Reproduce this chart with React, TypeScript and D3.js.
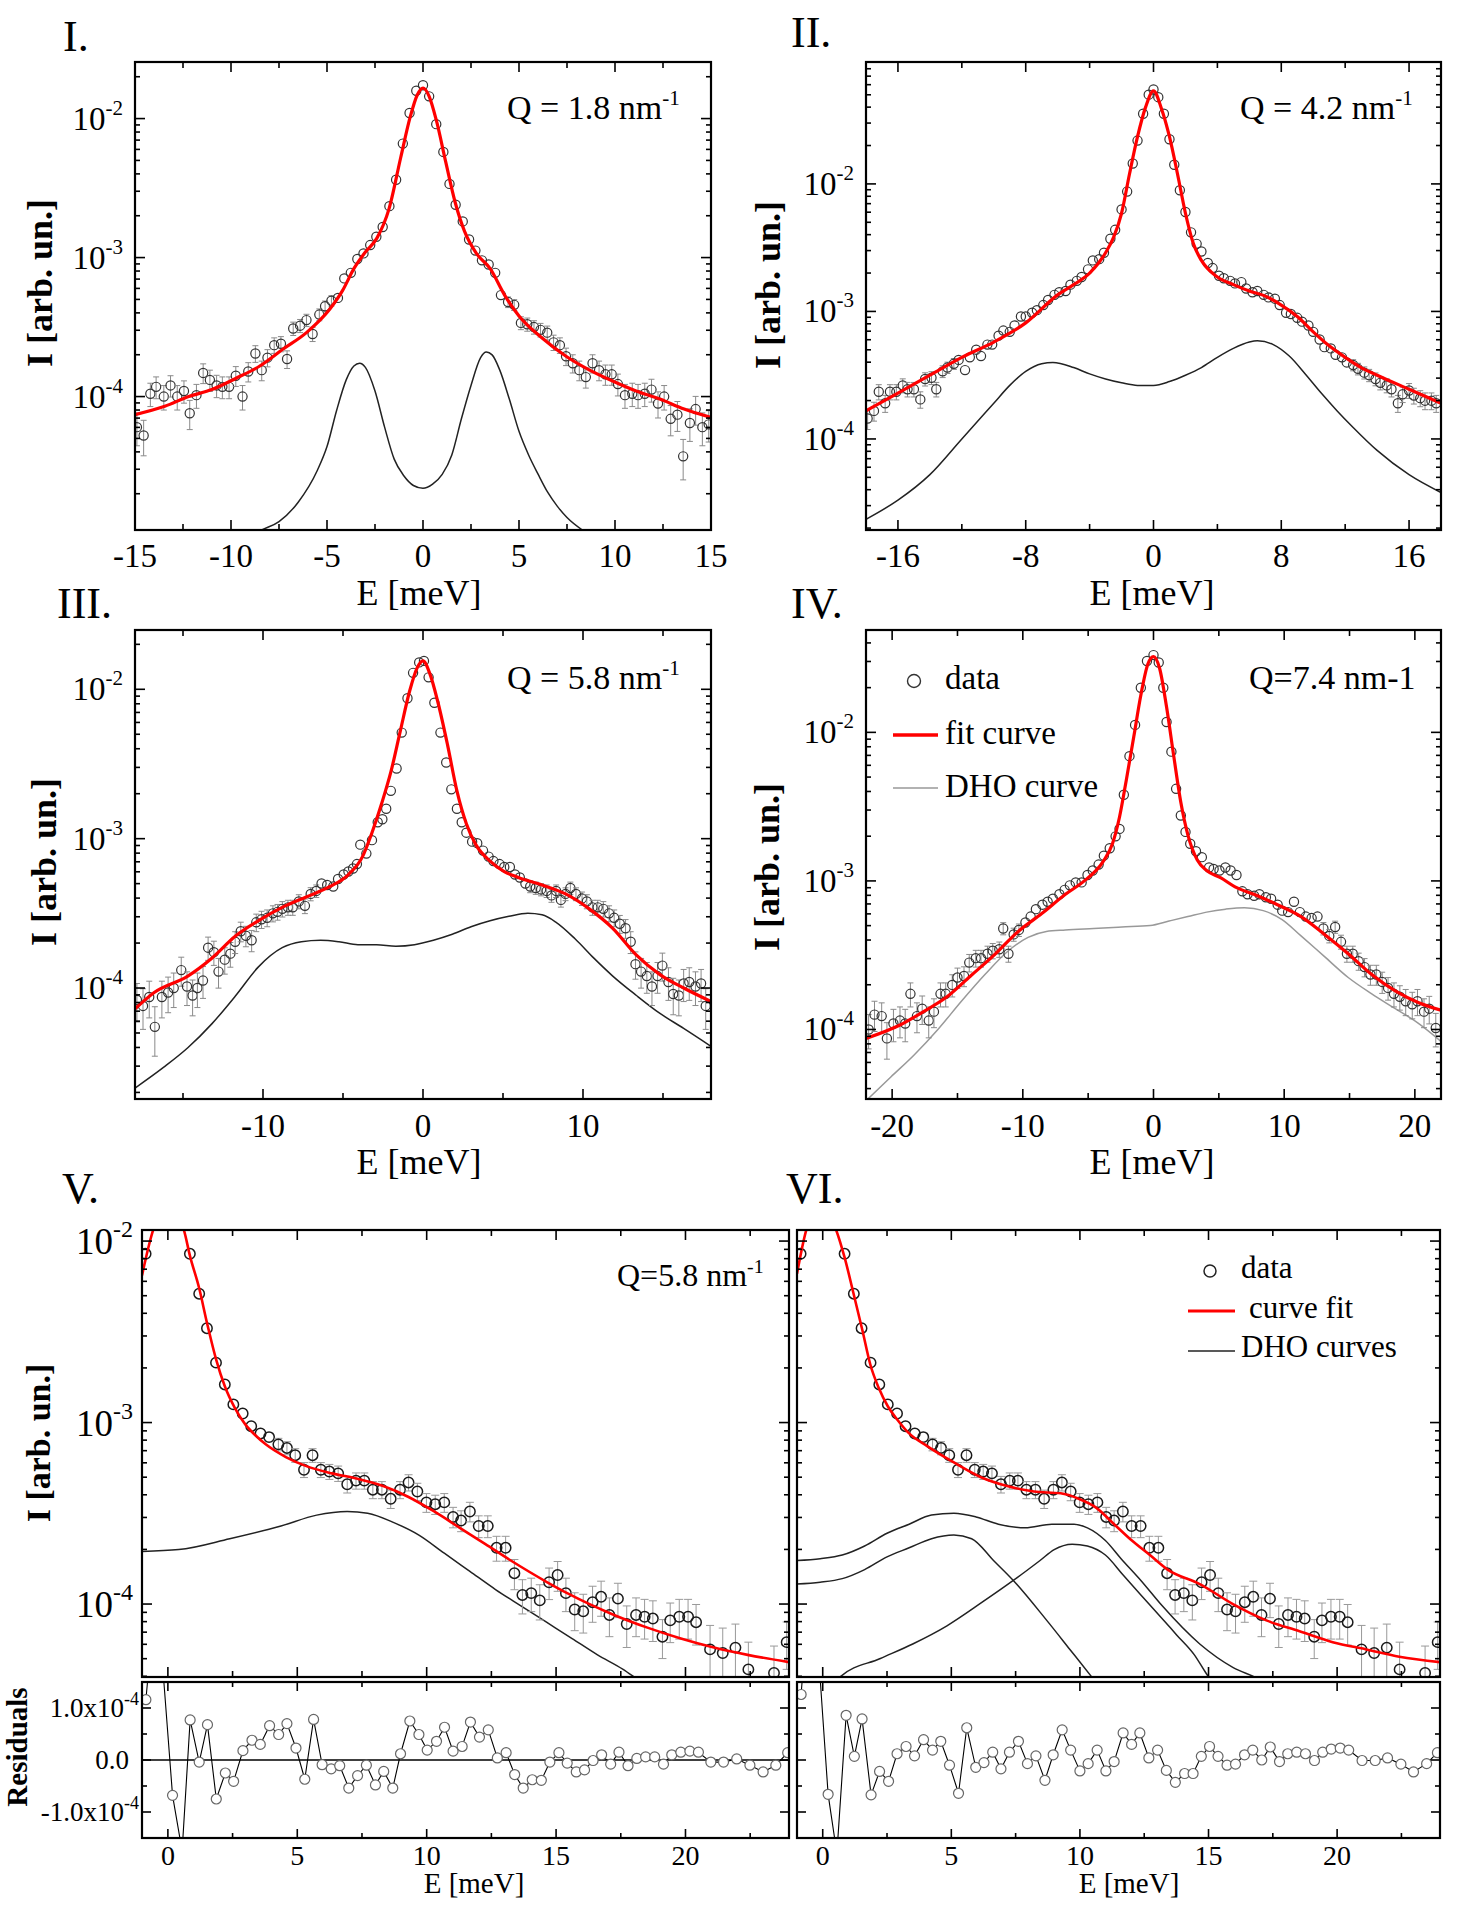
import React from "react";
import * as d3 from "d3";

// Each data row: [E (meV), log10 I, error bar half-length in units of 1e-5 (optional)]
type Row = number[];

// ---------- panel I : Q = 1.8 nm^-1 ----------
const P1_DATA: Row[] = [
  [-14.9, -4.22, 1.6], [-14.55, -4.28, 1.5], [-14.2, -3.98, 2.0], [-13.9, -3.93, 2.1], [-13.5, -4.0, 2.0],
  [-13.15, -3.92, 2.1], [-12.8, -4.0, 2.0], [-12.45, -3.96, 2.0], [-12.15, -4.12, 1.8], [-11.8, -3.99, 2.0],
  [-11.45, -3.83, 2.4], [-11.1, -3.88, 2.3], [-10.75, -3.92, 2.2], [-10.45, -3.93, 2.1], [-10.1, -3.93, 2.1],
  [-9.75, -3.85, 2.3], [-9.4, -4.0, 2.0], [-9.1, -3.82, 2.4], [-8.73, -3.69, 2.8], [-8.4, -3.81, 2.5],
  [-8.1, -3.72, 2.7], [-7.75, -3.63, 3.0], [-7.4, -3.62, 3.0], [-7.08, -3.73, 2.7], [-6.76, -3.51, 3.4],
  [-6.4, -3.49, 3.5], [-6.07, -3.45, 3.6], [-5.75, -3.55, 3.3], [-5.4, -3.41, 3.8], [-5.1, -3.35, 4.0],
  [-4.77, -3.31, 4.2], [-4.43, -3.29], [-4.1, -3.15], [-3.76, -3.11], [-3.42, -3.01], [-3.1, -2.97],
  [-2.75, -2.91], [-2.43, -2.85], [-2.1, -2.78], [-1.75, -2.63], [-1.4, -2.44], [-1.05, -2.18],
  [-0.7, -1.96], [-0.35, -1.8], [0, -1.76], [0.32, -1.84], [0.69, -2.04], [1.06, -2.24], [1.38, -2.47],
  [1.7, -2.62], [2.07, -2.74], [2.4, -2.87], [2.73, -2.95], [3.07, -3.02], [3.42, -3.05], [3.76, -3.11],
  [4.06, -3.27], [4.43, -3.32, 4.2], [4.75, -3.34, 4.1], [5.1, -3.47, 3.6], [5.43, -3.48, 3.6],
  [5.78, -3.5, 3.5], [6.12, -3.52, 3.4], [6.47, -3.54, 3.3], [6.8, -3.61, 3.1], [7.13, -3.63, 3.0],
  [7.45, -3.71, 2.8], [7.8, -3.76, 2.6], [8.14, -3.81, 2.5], [8.48, -3.86, 2.3], [8.83, -3.76, 2.6],
  [9.17, -3.81, 2.5], [9.5, -3.84, 2.4], [9.83, -3.84, 2.4], [10.15, -3.91, 2.2], [10.52, -3.99, 2.0],
  [10.9, -3.98, 2.0], [11.2, -3.99, 2.0], [11.55, -3.98, 2.0], [11.9, -3.95, 2.1], [12.24, -4.05, 1.9],
  [12.56, -4.0, 2.0], [12.9, -4.16, 1.7], [13.25, -4.13, 1.8], [13.55, -4.43, 1.2], [13.9, -4.19, 1.7],
  [14.2, -4.09, 1.9], [14.55, -4.22, 1.6], [14.88, -4.2, 1.6],
];
const P1_FIT: Row[] = [
  [-15, -4.13], [-13.45, -4.07], [-12.2, -4.0], [-11, -3.95], [-9.76, -3.87], [-8.5, -3.78], [-7.3, -3.66],
  [-6.07, -3.54], [-4.85, -3.37], [-4.2, -3.24], [-3.6, -3.08], [-3.0, -2.96], [-2.4, -2.86], [-1.77, -2.65],
  [-1.16, -2.28], [-0.67, -1.99], [-0.3, -1.83], [0, -1.78], [0.32, -1.84], [0.69, -2.01], [1.18, -2.31],
  [1.67, -2.6], [2.16, -2.81], [2.78, -2.97], [3.5, -3.08], [4.25, -3.27], [5.0, -3.42], [6.22, -3.58],
  [7.45, -3.71], [8.68, -3.81], [9.9, -3.89], [11.1, -3.96], [12.37, -4.02], [13.6, -4.09], [15, -4.15],
];
const P1_DHO: Row[] = [
  [-9.5, -5.05], [-8.4, -4.96], [-7.5, -4.9], [-6.5, -4.76], [-5.5, -4.53], [-5, -4.36], [-4.5, -4.1],
  [-4, -3.88], [-3.6, -3.78], [-3.3, -3.76], [-3, -3.79], [-2.5, -3.96], [-2, -4.22], [-1.5, -4.45],
  [-1, -4.57], [-0.5, -4.64], [0, -4.66], [0.5, -4.63], [1, -4.56], [1.5, -4.42], [2, -4.16], [2.5, -3.92],
  [3, -3.72], [3.3, -3.68], [3.6, -3.7], [4, -3.81], [4.5, -4.02], [5, -4.25], [5.5, -4.42], [6, -4.56],
  [6.5, -4.69], [7, -4.79], [7.5, -4.87], [8.3, -4.96], [9.5, -5.05],
];

// ---------- panel II : Q = 4.2 nm^-1 ----------
const P2_DATA: Row[] = [
  [-17.9, -3.84, 2.6], [-17.5, -3.78, 2.8], [-17.2, -3.63, 3.2], [-16.8, -3.72, 2.9], [-16.5, -3.63, 3.2],
  [-16.1, -3.63, 3.2], [-15.7, -3.58, 3.3], [-15.4, -3.61, 3.2], [-15.0, -3.61, 3.2], [-14.6, -3.69, 3.0],
  [-14.3, -3.53, 3.5], [-13.9, -3.52, 3.5], [-13.6, -3.61, 3.2], [-13.2, -3.47, 3.6], [-12.9, -3.44, 3.7],
  [-12.5, -3.41, 3.8], [-12.2, -3.38], [-11.8, -3.46], [-11.5, -3.36], [-11.1, -3.3], [-10.8, -3.35],
  [-10.4, -3.26], [-10.1, -3.26], [-9.7, -3.19], [-9.4, -3.15], [-9.0, -3.16], [-8.7, -3.11], [-8.3, -3.04],
  [-8.0, -3.04], [-7.6, -3.01], [-7.3, -2.99], [-6.9, -2.95], [-6.6, -2.91], [-6.2, -2.87], [-5.9, -2.85],
  [-5.5, -2.84], [-5.2, -2.79], [-4.8, -2.76], [-4.5, -2.73], [-4.1, -2.67], [-3.8, -2.6], [-3.4, -2.59],
  [-3.1, -2.54], [-2.7, -2.43], [-2.4, -2.36], [-2.0, -2.2], [-1.65, -2.06], [-1.3, -1.84], [-1.0, -1.66],
  [-0.65, -1.45], [-0.3, -1.3], [0, -1.26], [0.3, -1.32], [0.65, -1.45], [1.0, -1.65], [1.3, -1.85],
  [1.65, -2.05], [2.0, -2.22], [2.35, -2.38], [2.7, -2.47], [3.0, -2.53], [3.4, -2.62], [3.7, -2.66],
  [4.1, -2.72], [4.4, -2.74], [4.8, -2.76], [5.1, -2.78], [5.5, -2.77], [5.8, -2.82], [6.2, -2.85],
  [6.5, -2.84], [6.9, -2.87], [7.2, -2.89], [7.6, -2.9], [7.9, -2.95], [8.3, -3.01], [8.6, -3.02],
  [9.0, -3.05], [9.3, -3.08], [9.7, -3.11], [10.0, -3.16], [10.4, -3.22], [10.7, -3.28], [11.1, -3.29],
  [11.4, -3.34], [11.8, -3.36], [12.1, -3.4], [12.5, -3.42, 3.8], [12.8, -3.45, 3.7], [13.2, -3.48, 3.6],
  [13.5, -3.5, 3.5], [13.9, -3.53, 3.4], [14.2, -3.56, 3.3], [14.6, -3.58, 3.3], [14.9, -3.61, 3.2],
  [15.3, -3.72, 2.9], [15.6, -3.65, 3.1], [16.0, -3.62, 3.2], [16.3, -3.66, 3.1], [16.7, -3.68, 3.0],
  [17.0, -3.7, 3.0], [17.4, -3.7, 3.0], [17.7, -3.72, 2.9],
];
const P2_FIT: Row[] = [
  [-18, -3.78], [-16, -3.64], [-14, -3.5], [-12, -3.36], [-10, -3.24], [-8, -3.09], [-6, -2.87], [-5, -2.79],
  [-4, -2.7], [-3, -2.54], [-2.5, -2.42], [-2, -2.23], [-1.5, -1.92], [-1, -1.63], [-0.5, -1.4], [0, -1.27],
  [0.5, -1.41], [1, -1.63], [1.5, -1.92], [2, -2.23], [2.5, -2.47], [3, -2.6], [4, -2.73], [5, -2.79],
  [6, -2.84], [7, -2.88], [8, -2.95], [9, -3.04], [10, -3.16], [11, -3.27], [12, -3.36], [13, -3.44],
  [14, -3.5], [16, -3.61], [18, -3.72],
];
const P2_DHO: Row[] = [
  [-18, -4.63], [-16, -4.48], [-14, -4.28], [-12, -4.0], [-10, -3.72], [-9, -3.58], [-8, -3.47], [-7, -3.41],
  [-6.3, -3.4], [-5, -3.44], [-4, -3.49], [-3, -3.53], [-2, -3.56], [-1, -3.58], [0, -3.58], [1, -3.55],
  [2, -3.5], [3, -3.44], [4, -3.36], [5, -3.29], [6, -3.24], [6.5, -3.23], [7.5, -3.26], [8.5, -3.35],
  [9.5, -3.49], [10.5, -3.64], [11.5, -3.78], [12.5, -3.91], [14, -4.09], [16, -4.28], [18, -4.42],
];

// ---------- panel III : Q = 5.8 nm^-1 ----------
const P3_DATA: Row[] = [
  [-17.88, -4.08, 2.4], [-17.5, -4.12, 2.3], [-17.11, -4.06, 2.4], [-16.76, -4.26, 2.0], [-16.32, -4.06, 2.4],
  [-15.93, -4.03, 2.5], [-15.58, -4.0, 2.6], [-15.11, -3.88, 2.9], [-14.75, -3.99, 2.6], [-14.4, -4.05, 2.4],
  [-14.1, -4.0, 2.6], [-13.75, -3.95, 2.7], [-13.43, -3.73, 3.3], [-13.07, -3.76, 3.2], [-12.78, -3.89, 2.9],
  [-12.39, -3.81, 3.1], [-12.04, -3.77, 3.2], [-11.74, -3.69, 3.4], [-11.39, -3.62, 3.6], [-11.07, -3.65, 3.5],
  [-10.71, -3.68, 3.4], [-10.42, -3.56, 3.7], [-10.09, -3.54, 3.8], [-9.74, -3.53, 3.8], [-9.38, -3.5, 3.9],
  [-9.09, -3.49, 3.9], [-8.79, -3.47, 4.0], [-8.44, -3.46, 4.0], [-8.14, -3.46, 4.0], [-7.76, -3.42, 4.1],
  [-7.38, -3.45, 4.0], [-7.02, -3.37, 4.3], [-6.67, -3.35, 4.3], [-6.34, -3.3], [-5.99, -3.31], [-5.61, -3.32],
  [-5.31, -3.27], [-4.96, -3.24], [-4.66, -3.22], [-4.37, -3.2], [-4.13, -3.17], [-3.92, -3.04], [-3.54, -3.1],
  [-3.19, -3.01], [-2.83, -2.89], [-2.54, -2.87], [-2.3, -2.8], [-2.01, -2.68], [-1.65, -2.53], [-1.33, -2.29],
  [-0.97, -2.06], [-0.62, -1.89], [-0.24, -1.82], [0.06, -1.81], [0.35, -1.92], [0.71, -2.09], [1.09, -2.29],
  [1.45, -2.49], [1.77, -2.67], [2.12, -2.8], [2.42, -2.89], [2.71, -2.96], [3.07, -3.02], [3.39, -3.03],
  [3.75, -3.08], [4.1, -3.12], [4.4, -3.15], [4.78, -3.17], [5.08, -3.19], [5.43, -3.19], [5.75, -3.24],
  [6.05, -3.26], [6.4, -3.3], [6.7, -3.32, 4.4], [7.05, -3.33, 4.4], [7.38, -3.34, 4.3], [7.73, -3.35, 4.3],
  [8.03, -3.38, 4.2], [8.32, -3.35, 4.3], [8.62, -3.41, 4.1], [8.91, -3.37, 4.2], [9.21, -3.33, 4.4],
  [9.56, -3.37, 4.2], [9.94, -3.4, 4.1], [10.24, -3.42, 4.1], [10.59, -3.46, 4.0], [10.92, -3.46, 4.0],
  [11.27, -3.47, 4.0], [11.63, -3.5, 3.9], [11.95, -3.53, 3.8], [12.3, -3.57, 3.7], [12.66, -3.6, 3.6],
  [12.98, -3.69, 3.4], [13.28, -3.84, 3.0], [13.63, -3.89, 2.9], [13.99, -3.92, 2.8], [14.31, -3.99, 2.6],
  [14.66, -3.92, 2.8], [14.96, -3.85, 3.0], [15.34, -3.96, 2.7], [15.64, -4.04, 2.5], [15.99, -4.05, 2.4],
  [16.29, -3.97, 2.6], [16.64, -3.96, 2.7], [17.03, -3.99, 2.6], [17.38, -3.97, 2.6], [17.67, -4.12, 2.3],
];
const P3_FIT: Row[] = [
  [-18, -4.14], [-16.8, -4.03], [-14.7, -3.92], [-13.2, -3.8], [-11.7, -3.65], [-10.3, -3.55], [-8.8, -3.46],
  [-7.3, -3.39], [-5.8, -3.32], [-4.66, -3.24], [-3.78, -3.12], [-3.19, -2.96], [-2.6, -2.77], [-2.0, -2.55],
  [-1.42, -2.28], [-0.83, -2.01], [-0.38, -1.86], [0, -1.81], [0.41, -1.89], [0.94, -2.09], [1.53, -2.37],
  [2.12, -2.68], [2.71, -2.9], [3.3, -3.04], [4.19, -3.15], [5.08, -3.22], [5.96, -3.26], [7.44, -3.31],
  [8.91, -3.37], [10.39, -3.47], [11.86, -3.6], [13.34, -3.78], [14.81, -3.91], [16.29, -4.0], [18, -4.09],
];
const P3_DHO: Row[] = [
  [-18, -4.67], [-16.2, -4.53], [-14.7, -4.4], [-13.2, -4.24], [-11.7, -4.05], [-10.3, -3.86], [-8.8, -3.73],
  [-7.6, -3.69], [-6.4, -3.68], [-5.25, -3.69], [-4.07, -3.71], [-2.9, -3.71], [-1.7, -3.72], [-0.53, -3.71],
  [0.65, -3.68], [1.83, -3.64], [3.0, -3.59], [4.19, -3.55], [5.37, -3.52], [6.55, -3.5], [7.44, -3.51],
  [8.32, -3.56], [9.5, -3.67], [10.68, -3.8], [11.86, -3.92], [13.34, -4.05], [14.81, -4.17], [16.29, -4.27],
  [18, -4.39],
];

// ---------- panel IV : Q = 7.4 nm^-1 ----------
const P4_DATA: Row[] = [
  [-21.8, -4.0, 2.6], [-21.35, -3.9, 2.9], [-20.8, -3.91, 2.8], [-20.4, -4.06, 2.4], [-19.9, -3.96, 2.7],
  [-19.4, -3.94, 2.7], [-19.0, -3.96, 2.7], [-18.6, -3.76, 3.2], [-18.1, -3.91, 2.8], [-17.7, -3.86, 3.0],
  [-17.2, -3.94, 2.7], [-16.8, -3.88, 2.9], [-16.3, -3.76, 3.2], [-15.9, -3.76, 3.2], [-15.4, -3.7, 3.4],
  [-15.0, -3.65, 3.5], [-14.5, -3.64, 3.5], [-14.1, -3.55, 3.8], [-13.6, -3.52, 3.9], [-13.2, -3.52, 3.9],
  [-12.7, -3.49, 4.0], [-12.3, -3.47, 4.0], [-11.8, -3.46, 4.1], [-11.5, -3.32, 4.5], [-11.1, -3.49, 4.0],
  [-10.7, -3.36, 4.4], [-10.3, -3.33, 4.5], [-9.8, -3.28], [-9.4, -3.24], [-9.0, -3.19], [-8.5, -3.16],
  [-8.1, -3.14], [-7.7, -3.12], [-7.2, -3.09], [-6.8, -3.06], [-6.4, -3.03], [-5.95, -3.01], [-5.5, -3.01],
  [-5.05, -2.96], [-4.65, -2.93], [-4.2, -2.89], [-3.8, -2.83], [-3.35, -2.78], [-2.9, -2.7], [-2.6, -2.65],
  [-2.27, -2.42], [-1.84, -2.16], [-1.41, -1.95], [-0.97, -1.7], [-0.5, -1.52], [0, -1.48], [0.4, -1.53],
  [0.75, -1.7], [1.0, -1.93], [1.37, -2.13], [1.73, -2.38], [2.09, -2.56], [2.45, -2.67], [2.81, -2.75],
  [3.25, -2.8], [3.7, -2.84], [4.25, -2.91], [4.6, -2.92], [5.05, -2.93], [5.5, -2.91], [5.9, -2.93],
  [6.35, -2.96], [6.8, -3.07], [7.2, -3.09], [7.7, -3.1], [8.1, -3.09], [8.6, -3.11], [9.0, -3.12],
  [9.5, -3.16], [9.85, -3.2], [10.3, -3.21], [10.75, -3.14], [11.2, -3.21], [11.65, -3.24], [12.1, -3.25],
  [12.55, -3.24], [13.0, -3.32, 4.6], [13.45, -3.37, 4.4], [13.9, -3.31, 4.6], [14.35, -3.41, 4.2],
  [14.8, -3.49, 4.0], [15.25, -3.49, 4.0], [15.7, -3.54, 3.8], [16.15, -3.58, 3.7], [16.6, -3.63, 3.6],
  [17.05, -3.63, 3.6], [17.5, -3.68, 3.4], [17.95, -3.72, 3.3], [18.4, -3.76, 3.2], [18.85, -3.78, 3.1],
  [19.3, -3.81, 3.1], [19.8, -3.83, 3.0], [20.2, -3.81, 3.1], [20.7, -3.88, 2.9], [21.1, -3.86, 2.9],
  [21.6, -3.99, 2.6],
];
const P4_FIT: Row[] = [
  [-22, -4.06], [-19.4, -3.97], [-17.6, -3.88], [-15.8, -3.78], [-14, -3.64], [-12.2, -3.5], [-10.35, -3.34],
  [-8.55, -3.22], [-6.74, -3.09], [-5.3, -3.0], [-3.86, -2.87], [-3.14, -2.75], [-2.6, -2.57], [-2.06, -2.31],
  [-1.51, -2.03], [-0.97, -1.75], [-0.43, -1.54], [0, -1.49], [0.47, -1.57], [1.0, -1.83], [1.55, -2.16],
  [2.09, -2.47], [2.63, -2.69], [3.35, -2.86], [4.07, -2.93], [5.16, -2.98], [6.24, -3.04], [7.68, -3.09],
  [9.48, -3.16], [11.29, -3.24], [13.09, -3.36], [14.9, -3.49], [16.7, -3.63], [18.5, -3.74], [20.3, -3.82],
  [22, -3.87],
];
const P4_DHO: Row[] = [
  [-22, -4.48], [-20.1, -4.32], [-18.3, -4.17], [-16.5, -4.0], [-14.7, -3.81], [-12.9, -3.63], [-11.1, -3.47],
  [-9.6, -3.38], [-8.2, -3.34], [-6.74, -3.33], [-4.58, -3.32], [-2.42, -3.31], [-0.25, -3.3], [1.19, -3.27],
  [2.63, -3.24], [4.07, -3.21], [5.52, -3.19], [6.96, -3.18], [8.4, -3.2], [9.84, -3.26], [11.29, -3.37],
  [13.09, -3.51], [14.9, -3.65], [16.7, -3.76], [18.5, -3.86], [20.3, -3.96], [22, -4.08],
];

// ---------- panels V / VI : Q = 5.8 nm^-1, positive side ----------
const P5_DATA: Row[] = [
  [-0.86, -2.07], [0.85, -2.07], [1.21, -2.29], [1.51, -2.48], [1.86, -2.67], [2.2, -2.79], [2.53, -2.9],
  [2.89, -2.95], [3.22, -3.02], [3.58, -3.06], [3.91, -3.08], [4.27, -3.12, 6], [4.6, -3.14, 6],
  [4.92, -3.18, 5.7], [5.26, -3.26, 5.2], [5.59, -3.18, 5.7], [5.91, -3.26, 5.2], [6.24, -3.27, 5.1],
  [6.58, -3.28, 5.1], [6.93, -3.34, 4.8], [7.27, -3.32, 4.9], [7.59, -3.32, 4.9], [7.92, -3.37, 4.6],
  [8.27, -3.37, 4.6], [8.61, -3.42, 4.4], [8.97, -3.37, 4.6], [9.3, -3.33, 4.8], [9.64, -3.38, 4.6],
  [9.99, -3.44, 4.3], [10.33, -3.45, 4.3], [10.68, -3.44, 4.3], [11.02, -3.52, 3.9], [11.33, -3.54, 3.8],
  [11.67, -3.49, 4.0], [12.01, -3.57, 3.7], [12.36, -3.57, 3.7], [12.7, -3.69, 3.2], [13.05, -3.69, 3.2],
  [13.39, -3.83, 2.8], [13.7, -3.95, 2.4], [14.04, -3.94, 2.4], [14.37, -3.98, 2.3], [14.73, -3.88, 2.6],
  [15.06, -3.84, 2.7], [15.38, -3.94, 2.4], [15.72, -4.03, 2.2], [16.05, -4.04, 2.2], [16.41, -3.99, 2.3],
  [16.74, -3.96, 2.4], [17.06, -4.06, 2.1], [17.39, -3.97, 2.3], [17.73, -4.11, 2.0], [18.09, -4.06, 2.1],
  [18.42, -4.07, 2.1], [18.74, -4.08, 2.1], [19.11, -4.18, 1.6], [19.41, -4.09, 2.0], [19.76, -4.07, 2.1],
  [20.1, -4.07, 2.1], [20.41, -4.1, 2.0], [20.95, -4.25, 2.0], [21.44, -4.27, 2.0], [21.93, -4.24, 2.0],
  [22.43, -4.36, 1.8], [23.42, -4.38, 1.7], [23.91, -4.21, 1.8],
];
const P5_FIT: Row[] = [
  [-1, -2.19], [-0.57, -1.94], [-0.3, -1.85], [0, -1.81], [0.3, -1.86], [0.62, -1.94], [0.85, -2.08],
  [1.21, -2.26], [1.51, -2.45], [1.86, -2.65], [2.2, -2.8], [2.59, -2.92], [2.99, -3.01], [3.38, -3.07],
  [3.78, -3.12], [4.56, -3.19], [5.35, -3.24], [6.34, -3.28], [7.33, -3.31], [8.32, -3.35], [9.3, -3.41],
  [10.29, -3.49], [11.28, -3.58], [12.27, -3.67], [13.25, -3.76], [14.66, -3.88], [15.43, -3.94],
  [17.24, -4.06], [18.53, -4.13], [19.82, -4.19], [21.1, -4.24], [22.4, -4.28], [24, -4.32],
];
const P5_DHO: Row[] = [
  [-1, -3.71], [0.42, -3.7], [2.39, -3.64], [4.37, -3.57], [5.75, -3.51], [6.93, -3.49], [7.72, -3.5],
  [8.71, -3.55], [9.7, -3.62], [10.68, -3.72], [11.67, -3.82], [12.66, -3.92], [13.64, -4.01], [14.63, -4.1],
  [15.62, -4.19], [16.6, -4.28], [17.59, -4.36], [18.09, -4.41], [19, -4.5],
];
const P6_FIT: Row[] = [
  [-1, -2.18], [-0.62, -1.93], [-0.3, -1.84], [0, -1.81], [0.3, -1.86], [0.5, -1.93], [0.85, -2.09],
  [1.2, -2.29], [1.54, -2.49], [1.85, -2.68], [2.18, -2.81], [2.53, -2.91], [2.88, -2.98], [3.36, -3.06],
  [4.06, -3.13], [5.1, -3.22], [6.13, -3.3], [7.17, -3.35], [8.21, -3.38], [9.25, -3.39], [9.95, -3.42],
  [10.64, -3.47], [11.33, -3.56], [12.02, -3.65], [12.72, -3.73], [13.41, -3.81], [14.66, -3.89],
  [15.95, -4.0], [17.25, -4.09], [18.54, -4.15], [19.83, -4.21], [21.13, -4.25], [22.42, -4.29], [24, -4.32],
];
const P6_DHO_SUM: Row[] = [
  [-1, -3.76], [-0.1, -3.75], [0.76, -3.73], [1.63, -3.68], [2.5, -3.61], [3.36, -3.56], [4.23, -3.51],
  [5.1, -3.5], [5.96, -3.52], [6.83, -3.56], [7.87, -3.58], [8.91, -3.56], [9.77, -3.56], [10.29, -3.58],
  [10.99, -3.65], [11.6, -3.75], [12.37, -3.87], [13.2, -4.01], [14.66, -4.22], [15.96, -4.35], [16.9, -4.41],
  [17.5, -4.46],
];
const P6_DHO_1: Row[] = [
  [-1, -3.89], [-0.1, -3.88], [0.76, -3.86], [1.63, -3.81], [2.5, -3.74], [3.36, -3.69], [4.23, -3.64],
  [5.1, -3.62], [5.79, -3.64], [6.64, -3.76], [7.41, -3.87], [8.71, -4.09], [9.61, -4.25], [10.45, -4.4],
  [11, -4.5],
];
const P6_DHO_2: Row[] = [
  [0.5, -4.45], [0.69, -4.4], [2.24, -4.3], [3.5, -4.22], [4.83, -4.12], [6.2, -3.99], [7.41, -3.87],
  [8.45, -3.76], [9.0, -3.7], [9.7, -3.67], [10.29, -3.68], [10.99, -3.73], [11.68, -3.84], [12.37, -3.95],
  [13.07, -4.06], [13.76, -4.17], [14.45, -4.28], [14.9, -4.38], [15.3, -4.46],
];

// residuals, [E, value in units of 1e-4]
const RES_5: Row[] = [
  [-0.85, 1.16], [-0.51, 3.0], [-0.17, 1.6], [0.18, -0.68], [0.55, -1.75], [0.86, 0.77], [1.21, -0.04],
  [1.53, 0.68], [1.87, -0.75], [2.22, -0.25], [2.54, -0.41], [2.9, 0.18], [3.25, 0.38], [3.57, 0.3],
  [3.93, 0.66], [4.28, 0.49], [4.6, 0.7], [4.95, 0.23], [5.29, -0.37], [5.63, 0.78], [5.96, -0.09],
  [6.31, -0.17], [6.64, -0.11], [6.99, -0.54], [7.33, -0.3], [7.67, -0.1], [8.02, -0.48], [8.34, -0.22],
  [8.69, -0.54], [8.99, 0.12], [9.35, 0.75], [9.7, 0.49], [10.02, 0.19], [10.38, 0.36], [10.69, 0.63],
  [11.02, 0.17], [11.37, 0.26], [11.69, 0.73], [12.04, 0.44], [12.38, 0.58], [12.73, 0.04], [13.07, 0.14],
  [13.4, -0.28], [13.73, -0.54], [14.08, -0.38], [14.43, -0.39], [14.76, -0.04], [15.11, 0.14], [15.43, -0.06],
  [15.78, -0.23], [16.1, -0.19], [16.43, -0.01], [16.76, 0.1], [17.11, -0.08], [17.43, 0.15], [17.78, -0.11],
  [18.12, 0.03], [18.46, 0.06], [18.81, 0.06], [19.15, -0.08], [19.47, 0.1], [19.82, 0.15], [20.17, 0.17],
  [20.5, 0.15], [20.98, -0.04], [21.47, -0.04], [21.98, 0.02], [22.49, -0.1], [23.0, -0.23], [23.49, -0.1],
  [23.95, 0.14],
];
const RES_6: Row[] = [
  [-0.84, 1.26], [-0.5, 3.5], [-0.16, 2.0], [0.21, -0.66], [0.55, -1.8], [0.91, 0.86], [1.23, 0.07],
  [1.53, 0.79], [1.88, -0.67], [2.21, -0.22], [2.56, -0.41], [2.89, 0.12], [3.24, 0.26], [3.57, 0.08],
  [3.92, 0.39], [4.27, 0.19], [4.59, 0.36], [4.93, -0.1], [5.28, -0.64], [5.6, 0.62], [5.95, -0.14],
  [6.27, -0.05], [6.61, 0.15], [6.93, -0.17], [7.26, 0.15], [7.61, 0.36], [7.96, -0.07], [8.29, 0.08],
  [8.64, -0.39], [8.96, 0.1], [9.31, 0.58], [9.64, 0.19], [10.0, -0.21], [10.32, -0.07], [10.67, 0.19],
  [11.01, -0.21], [11.33, -0.03], [11.68, 0.52], [12.01, 0.3], [12.33, 0.52], [12.68, 0.04], [13.02, 0.19],
  [13.36, -0.2], [13.71, -0.43], [14.07, -0.26], [14.4, -0.26], [14.72, 0.07], [15.04, 0.26], [15.37, 0.07],
  [15.72, -0.1], [16.05, -0.08], [16.4, 0.1], [16.72, 0.19], [17.07, 0.0], [17.4, 0.25], [17.76, -0.03],
  [18.08, 0.12], [18.43, 0.15], [18.77, 0.12], [19.12, -0.01], [19.44, 0.15], [19.77, 0.21], [20.12, 0.23],
  [20.45, 0.19], [20.97, -0.01], [21.48, -0.01], [21.96, 0.04], [22.48, -0.08], [22.97, -0.23], [23.48, -0.07],
  [23.9, 0.14],
];

// tick values
const X_MAJOR_1 = [-15, -10, -5, 0, 5, 10, 15];
const X_MINOR_1 = [-12.5, -7.5, -2.5, 2.5, 7.5, 12.5];
const X_MAJOR_2 = [-16, -8, 0, 8, 16];
const X_MINOR_2 = [-12, -4, 4, 12];
const X_MAJOR_3 = [-10, 0, 10];
const X_MINOR_3 = [-15, -5, 5, 15];
const X_MAJOR_4 = [-20, -10, 0, 10, 20];
const X_MINOR_4 = [-15, -5, 5, 15];
const X_MAJOR_5 = [0, 5, 10, 15, 20];
const X_MINOR_5 = [2.5, 7.5, 12.5, 17.5, 22.5];
const Y_EXPONENTS = [-2, -3, -4];
const RES_MAJOR = [-1, 0, 1];
const RES_MINOR = [-0.5, 0.5];

const FONT = "'Liberation Serif', 'Times New Roman', Times, serif";
const RED = "#ff0000";

interface Box { l: number; t: number; r: number; b: number }
interface Curve { pts: Row[]; color: string; width: number }
interface Spec {
  id: string;
  box: Box;
  xDomain: [number, number];
  yLog: [number, number];
  xMajor: number[];
  xMinor: number[];
  xLabelY?: number;
  yLabels: boolean;
  labelFont: number;
  supFont: number;
  yLabelDy: number;
  supRaise: number;
  yLabelGap: number;
  data: Row[];
  dho: Curve[];
  fit: Curve;
  mark: { r: number; stroke: string; sw: number; cap: number; bar: string };
}

function Panel({ s }: { s: Spec }) {
  const { l, t, r, b } = s.box;
  const x = d3.scaleLinear().domain(s.xDomain).range([l, r]);
  const y = d3.scaleLog().domain([10 ** s.yLog[0], 10 ** s.yLog[1]]).range([b, t]);
  const line = d3
    .line<Row>()
    .x((d) => x(d[0]))
    .y((d) => y(10 ** d[1]))
    .curve(d3.curveMonotoneX);
  const yt = y.ticks();
  const isMajor = (v: number) => Math.abs(Math.log10(v) - Math.round(Math.log10(v))) < 1e-6;
  const clip = `clip-${s.id}`;
  const xTicks = [
    ...s.xMajor.map((v) => ({ v, len: 10 })),
    ...s.xMinor.map((v) => ({ v, len: 6 })),
  ];
  return (
    <g>
      <defs>
        <clipPath id={clip}>
          <rect x={l} y={t} width={r - l} height={b - t} />
        </clipPath>
      </defs>
      <g clipPath={`url(#${clip})`}>
        {s.dho.map((c, i) => (
          <path key={i} d={line(c.pts) || ""} fill="none" stroke={c.color} strokeWidth={c.width} />
        ))}
        {s.data.map((d, i) => {
          const cx = x(d[0]);
          const v = 10 ** d[1];
          const cy = y(v);
          const e = d[2] ? d[2] * 1e-5 : 0;
          let bar = null;
          if (e > 0) {
            const hi = y(v + e);
            const lo = v - e > 0 ? y(v - e) : b + 20;
            const c = s.mark.cap / 2;
            bar = (
              <g stroke={s.mark.bar} strokeWidth={1}>
                <line x1={cx} x2={cx} y1={hi} y2={lo} />
                <line x1={cx - c} x2={cx + c} y1={hi} y2={hi} />
                <line x1={cx - c} x2={cx + c} y1={lo} y2={lo} />
              </g>
            );
          }
          return (
            <g key={i}>
              {bar}
              <circle cx={cx} cy={cy} r={s.mark.r} fill="none" stroke={s.mark.stroke} strokeWidth={s.mark.sw} />
            </g>
          );
        })}
        <path d={line(s.fit.pts) || ""} fill="none" stroke={s.fit.color} strokeWidth={s.fit.width} />
      </g>
      {/* ticks, inward on all four sides */}
      <g stroke="#000" strokeWidth={1.6}>
        {xTicks.map((tk, i) => (
          <g key={"x" + i}>
            <line x1={x(tk.v)} x2={x(tk.v)} y1={b} y2={b - tk.len} />
            <line x1={x(tk.v)} x2={x(tk.v)} y1={t} y2={t + tk.len} />
          </g>
        ))}
        {yt.map((v, i) => {
          const len = isMajor(v) ? 10 : 5;
          const yy = y(v);
          return (
            <g key={"y" + i}>
              <line x1={l} x2={l + len} y1={yy} y2={yy} />
              <line x1={r} x2={r - len} y1={yy} y2={yy} />
            </g>
          );
        })}
      </g>
      <rect x={l} y={t} width={r - l} height={b - t} fill="none" stroke="#000" strokeWidth={2.2} />
      {s.xLabelY !== undefined &&
        s.xMajor.map((v) => (
          <text key={"xl" + v} x={x(v)} y={s.xLabelY} textAnchor="middle" fontSize={s.labelFont}>
            {String(v)}
          </text>
        ))}
      {s.yLabels &&
        Y_EXPONENTS.map((e) => (
          <text key={"yl" + e} x={l - s.yLabelGap} y={y(10 ** e) + s.yLabelDy} textAnchor="end" fontSize={s.labelFont}>
            10
            <tspan dy={-s.supRaise} fontSize={s.supFont}>
              {String(e)}
            </tspan>
          </text>
        ))}
    </g>
  );
}

interface ResSpec {
  id: string;
  box: Box;
  data: Row[];
  labels: boolean;
  zeroLine: boolean;
}

function Residual({ s }: { s: ResSpec }) {
  const { l, t, r, b } = s.box;
  const x = d3.scaleLinear().domain([-1, 24]).range([l, r]);
  const y = d3.scaleLinear().domain([-1.5, 1.5]).range([b, t]);
  const line = d3
    .line<Row>()
    .x((d) => x(d[0]))
    .y((d) => y(d[1]));
  const clip = `clip-${s.id}`;
  const xTicks = [...X_MAJOR_5.map((v) => ({ v, len: 9 })), ...X_MINOR_5.map((v) => ({ v, len: 5 }))];
  const yTicks = [...RES_MAJOR.map((v) => ({ v, len: 9 })), ...RES_MINOR.map((v) => ({ v, len: 5 }))];
  return (
    <g>
      <defs>
        <clipPath id={clip}>
          <rect x={l} y={t} width={r - l} height={b - t} />
        </clipPath>
      </defs>
      <g clipPath={`url(#${clip})`}>
        {s.zeroLine && <line x1={l} x2={r} y1={y(0)} y2={y(0)} stroke="#000" strokeWidth={1.4} />}
        <path d={line(s.data) || ""} fill="none" stroke="#000" strokeWidth={1.1} />
        {s.data.map((d, i) => (
          <circle key={i} cx={x(d[0])} cy={y(d[1])} r={5} fill="#fff" stroke="#666" strokeWidth={1.2} />
        ))}
      </g>
      <g stroke="#000" strokeWidth={1.6}>
        {xTicks.map((tk, i) => (
          <g key={"x" + i}>
            <line x1={x(tk.v)} x2={x(tk.v)} y1={b} y2={b - tk.len} />
            <line x1={x(tk.v)} x2={x(tk.v)} y1={t} y2={t + tk.len} />
          </g>
        ))}
        {yTicks.map((tk, i) => (
          <g key={"y" + i}>
            <line x1={l} x2={l + tk.len} y1={y(tk.v)} y2={y(tk.v)} />
            <line x1={r} x2={r - tk.len} y1={y(tk.v)} y2={y(tk.v)} />
          </g>
        ))}
      </g>
      <rect x={l} y={t} width={r - l} height={b - t} fill="none" stroke="#000" strokeWidth={2.2} />
      {X_MAJOR_5.map((v) => (
        <text key={"xl" + v} x={x(v)} y={1865} textAnchor="middle" fontSize={28}>
          {String(v)}
        </text>
      ))}
      {s.labels &&
        RES_MAJOR.map((v) =>
          v === 0 ? (
            <text key={"yl" + v} x={129} y={y(v) + 9} textAnchor="end" fontSize={27}>
              0.0
            </text>
          ) : (
            <text key={"yl" + v} x={139} y={y(v) + 9} textAnchor="end" fontSize={27}>
              {v > 0 ? "1.0x10" : "-1.0x10"}
              <tspan dy={-12} fontSize={18}>
                -4
              </tspan>
            </text>
          )
        )}
    </g>
  );
}

const MARK_SMALL = { r: 4.6, stroke: "#333", sw: 1.2, cap: 6, bar: "#8a8a8a" };
const MARK_BIG = { r: 5.2, stroke: "#1a1a1a", sw: 1.5, cap: 8, bar: "#999" };
const TOP_COMMON = { labelFont: 33, supFont: 21, yLabelDy: 11, supRaise: 15, yLabelGap: 12 };

const PANELS: Spec[] = [
  {
    id: "p1", box: { l: 135, t: 62, r: 711, b: 530 }, xDomain: [-15, 15], yLog: [-4.96, -1.593],
    xMajor: X_MAJOR_1, xMinor: X_MINOR_1, xLabelY: 567, yLabels: true, ...TOP_COMMON,
    data: P1_DATA, dho: [{ pts: P1_DHO, color: "#222", width: 1.5 }],
    fit: { pts: P1_FIT, color: RED, width: 3.2 }, mark: MARK_SMALL,
  },
  {
    id: "p2", box: { l: 866, t: 62, r: 1441, b: 530 }, xDomain: [-18, 18], yLog: [-4.714, -1.044],
    xMajor: X_MAJOR_2, xMinor: X_MINOR_2, xLabelY: 567, yLabels: true, ...TOP_COMMON,
    data: P2_DATA, dho: [{ pts: P2_DHO, color: "#222", width: 1.5 }],
    fit: { pts: P2_FIT, color: RED, width: 3.2 }, mark: MARK_SMALL,
  },
  {
    id: "p3", box: { l: 135, t: 630, r: 711, b: 1099 }, xDomain: [-18, 18], yLog: [-4.743, -1.603],
    xMajor: X_MAJOR_3, xMinor: X_MINOR_3, xLabelY: 1137, yLabels: true, ...TOP_COMMON,
    data: P3_DATA, dho: [{ pts: P3_DHO, color: "#222", width: 1.5 }],
    fit: { pts: P3_FIT, color: RED, width: 3.2 }, mark: MARK_SMALL,
  },
  {
    id: "p4", box: { l: 866, t: 630, r: 1441, b: 1099 }, xDomain: [-22, 22], yLog: [-4.468, -1.311],
    xMajor: X_MAJOR_4, xMinor: X_MINOR_4, xLabelY: 1137, yLabels: true, ...TOP_COMMON,
    data: P4_DATA, dho: [{ pts: P4_DHO, color: "#999", width: 1.5 }],
    fit: { pts: P4_FIT, color: RED, width: 3.2 }, mark: MARK_SMALL,
  },
  {
    id: "p5", box: { l: 142, t: 1230, r: 789, b: 1677 }, xDomain: [-1, 24], yLog: [-4.402, -1.939],
    xMajor: X_MAJOR_5, xMinor: X_MINOR_5, yLabels: true,
    labelFont: 37, supFont: 24, yLabelDy: 13, supRaise: 17, yLabelGap: 9,
    data: P5_DATA, dho: [{ pts: P5_DHO, color: "#222", width: 1.5 }],
    fit: { pts: P5_FIT, color: RED, width: 2.6 }, mark: MARK_BIG,
  },
  {
    id: "p6", box: { l: 797, t: 1230, r: 1440, b: 1677 }, xDomain: [-1, 24], yLog: [-4.402, -1.939],
    xMajor: X_MAJOR_5, xMinor: X_MINOR_5, yLabels: false,
    labelFont: 37, supFont: 24, yLabelDy: 13, supRaise: 17, yLabelGap: 9,
    data: P5_DATA,
    dho: [
      { pts: P6_DHO_SUM, color: "#222", width: 1.5 },
      { pts: P6_DHO_1, color: "#222", width: 1.5 },
      { pts: P6_DHO_2, color: "#222", width: 1.5 },
    ],
    fit: { pts: P6_FIT, color: RED, width: 2.6 }, mark: MARK_BIG,
  },
];

const RESIDUALS: ResSpec[] = [
  { id: "r5", box: { l: 142, t: 1682, r: 789, b: 1838 }, data: RES_5, labels: true, zeroLine: true },
  { id: "r6", box: { l: 797, t: 1682, r: 1440, b: 1838 }, data: RES_6, labels: false, zeroLine: false },
];

function QLabel({ x, y, text, sup, size }: { x: number; y: number; text: string; sup?: string; size: number }) {
  return (
    <text x={x} y={y} fontSize={size}>
      {text}
      {sup && (
        <tspan dy={-size * 0.42} fontSize={size * 0.62}>
          {sup}
        </tspan>
      )}
    </text>
  );
}

function YTitle({ x, y, text, size }: { x: number; y: number; text: string; size: number }) {
  return (
    <text
      transform={`translate(${x},${y}) rotate(-90)`}
      textAnchor="middle"
      dominantBaseline="central"
      fontSize={size}
      fontWeight="bold"
    >
      {text}
    </text>
  );
}

export default function App() {
  return (
    <svg
      width={1475}
      height={1919}
      style={{ position: "absolute", left: 0, top: 0, background: "#fff" }}
      fontFamily={FONT}
    >
      <rect x={0} y={0} width={1475} height={1919} fill="#fff" />
      {PANELS.map((p) => (
        <Panel key={p.id} s={p} />
      ))}
      {RESIDUALS.map((p) => (
        <Residual key={p.id} s={p} />
      ))}

      {/* panel numbers */}
      <text x={63} y={51} fontSize={44}>I.</text>
      <text x={791} y={47} fontSize={44}>II.</text>
      <text x={57} y={618} fontSize={44}>III.</text>
      <text x={791} y={618} fontSize={44}>IV.</text>
      <text x={62} y={1203} fontSize={44}>V.</text>
      <text x={786} y={1203} fontSize={44}>VI.</text>

      {/* axis titles */}
      <text x={419} y={605} textAnchor="middle" fontSize={36}>E [meV]</text>
      <text x={1152} y={605} textAnchor="middle" fontSize={36}>E [meV]</text>
      <text x={419} y={1174} textAnchor="middle" fontSize={36}>E [meV]</text>
      <text x={1152} y={1174} textAnchor="middle" fontSize={36}>E [meV]</text>
      <text x={474} y={1893} textAnchor="middle" fontSize={29}>E [meV]</text>
      <text x={1129} y={1893} textAnchor="middle" fontSize={29}>E [meV]</text>
      <YTitle x={40} y={283} text="I [arb. un.]" size={36} />
      <YTitle x={768} y={285} text="I [arb. un.]" size={36} />
      <YTitle x={44} y={862} text="I [arb. un.]" size={36} />
      <YTitle x={767} y={867} text="I [arb. un.]" size={36} />
      <YTitle x={38} y={1443} text="I [arb. un.]" size={34} />
      <YTitle x={17} y={1747} text="Residuals" size={29} />

      {/* Q annotations */}
      <QLabel x={507} y={119} text="Q = 1.8 nm" sup="-1" size={34} />
      <QLabel x={1240} y={119} text="Q = 4.2 nm" sup="-1" size={34} />
      <QLabel x={507} y={689} text="Q = 5.8 nm" sup="-1" size={34} />
      <QLabel x={1249} y={689} text="Q=7.4 nm-1" size={34} />
      <QLabel x={617} y={1286} text="Q=5.8 nm" sup="-1" size={32} />

      {/* legend, panel IV */}
      <circle cx={914} cy={681} r={6.5} fill="none" stroke="#333" strokeWidth={1.4} />
      <text x={945} y={689} fontSize={33}>data</text>
      <line x1={893} x2={938} y1={735} y2={735} stroke={RED} strokeWidth={3.5} />
      <text x={945} y={744} fontSize={33}>fit curve</text>
      <line x1={893} x2={938} y1={788} y2={788} stroke="#999" strokeWidth={1.5} />
      <text x={945} y={797} fontSize={33}>DHO curve</text>

      {/* legend, panel VI */}
      <circle cx={1210} cy={1271} r={6} fill="none" stroke="#222" strokeWidth={1.5} />
      <text x={1241} y={1278} fontSize={31}>data</text>
      <line x1={1188} x2={1235} y1={1311} y2={1311} stroke={RED} strokeWidth={3} />
      <text x={1249} y={1318} fontSize={31}>curve fit</text>
      <line x1={1188} x2={1235} y1={1351} y2={1351} stroke="#222" strokeWidth={1.5} />
      <text x={1241} y={1357} fontSize={31}>DHO curves</text>
    </svg>
  );
}
